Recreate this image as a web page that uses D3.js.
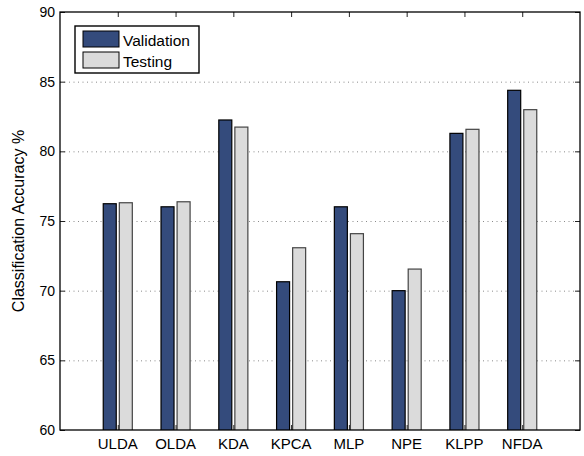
<!DOCTYPE html>
<html>
<head>
<meta charset="utf-8">
<script src="https://cdn.jsdelivr.net/npm/d3@7"></script>
<style>
  html, body { margin: 0; padding: 0; background: #fff; }
  svg { display: block; font-family: "Liberation Sans", Arial, Helvetica, sans-serif; }
</style>
</head>
<body>
<svg id="chart" width="584" height="456"></svg>
<script>
// Classification accuracy per method, validation vs testing
const categories = ["ULDA", "OLDA", "KDA", "KPCA", "MLP", "NPE", "KLPP", "NFDA"];
const validation = [76.24, 76.02, 82.25, 70.64, 76.02, 70.0, 81.29, 84.38];
const testing = [76.31, 76.38, 81.74, 73.08, 74.09, 71.55, 81.58, 82.99];
const seriesNames = ["Validation", "Testing"];
const yTicks = [60, 65, 70, 75, 80, 85, 90];
const gridTicks = [65, 70, 75, 80, 85];

const colors = { Validation: "#344b7c", Testing: "#dbdbdb" };
const strokes = { Validation: "#000", Testing: "#444" };

const W = 584, H = 456;
const m = { left: 60, right: 4, top: 12, bottom: 26 };
const svg = d3.select("#chart");

const x = d3.scaleLinear().domain([0, categories.length + 1]).range([m.left, W - m.right]);
const y = d3.scaleLinear().domain([60, 90]).range([H - m.bottom, m.top]);

const barW = x(0.225) - x(0);
const offsets = { Validation: -0.139, Testing: 0.139 };

// clip bars to the axes box
svg.append("clipPath").attr("id", "plotclip")
  .append("rect")
  .attr("x", x(0)).attr("y", y(90))
  .attr("width", x(categories.length + 1) - x(0))
  .attr("height", y(60) - y(90));

// dotted horizontal grid
svg.append("g").selectAll("line").data(gridTicks).join("line")
  .attr("x1", x(0)).attr("x2", x(categories.length + 1))
  .attr("y1", d => y(d) + 0.5).attr("y2", d => y(d) + 0.5)
  .attr("stroke", "#8a8a8a").attr("stroke-width", 1)
  .attr("stroke-dasharray", "1,3.5");

// bars
const bars = svg.append("g").attr("clip-path", "url(#plotclip)");
const seriesData = { Validation: validation, Testing: testing };
seriesNames.forEach(name => {
  bars.append("g").selectAll("rect").data(seriesData[name]).join("rect")
    .attr("x", (d, i) => x(i + 1 + offsets[name]) - barW / 2)
    .attr("y", d => y(d))
    .attr("width", barW)
    .attr("height", d => y(60) + 2 - y(d))
    .attr("fill", colors[name])
    .attr("stroke", strokes[name])
    .attr("stroke-width", 1.2);
});

// axes box with inward ticks
const yAxisL = d3.axisLeft(y).tickValues(yTicks).tickSize(-5).tickFormat("");
const yAxisR = d3.axisRight(y).tickValues(yTicks).tickSize(-5).tickFormat("");
const xTicks = d3.range(1, categories.length + 1);
const xAxisT = d3.axisTop(x).tickValues(xTicks).tickSize(-5).tickFormat("");
const xAxisB = d3.axisBottom(x).tickValues(xTicks).tickSize(-5).tickFormat("");

function styleAxis(g) {
  g.select(".domain").remove();
  g.selectAll(".tick line").attr("stroke", "#222").attr("stroke-width", 1);
}
svg.append("g").attr("transform", `translate(${x(0)},0)`).call(yAxisL).call(styleAxis);
svg.append("g").attr("transform", `translate(${x(categories.length + 1)},0)`).call(yAxisR).call(styleAxis);
svg.append("g").attr("transform", `translate(0,${y(90)})`).call(xAxisT).call(styleAxis);
svg.append("g").attr("transform", `translate(0,${y(60)})`).call(xAxisB).call(styleAxis);

svg.append("rect")
  .attr("x", x(0)).attr("y", y(90))
  .attr("width", x(categories.length + 1) - x(0))
  .attr("height", y(60) - y(90))
  .attr("fill", "none").attr("stroke", "#000").attr("stroke-width", 1.3);

// y tick labels
svg.append("g").selectAll("text").data(yTicks).join("text")
  .attr("x", x(0) - 5).attr("y", d => y(d) + 5)
  .attr("text-anchor", "end")
  .attr("font-size", 14)
  .text(d => d);

// category labels
svg.append("g").selectAll("text").data(categories).join("text")
  .attr("x", (d, i) => x(i + 1)).attr("y", y(60) + 19)
  .attr("text-anchor", "middle")
  .attr("font-size", 15)
  .text(d => d);

// y axis title
svg.append("text")
  .attr("transform", `translate(24,${(y(60) + y(90)) / 2}) rotate(-90)`)
  .attr("text-anchor", "middle")
  .attr("font-size", 16)
  .text("Classification Accuracy %");

// legend
const lg = svg.append("g");
lg.append("rect").attr("x", 75).attr("y", 26).attr("width", 124).attr("height", 47)
  .attr("fill", "#fff").attr("stroke", "#000").attr("stroke-width", 1.4);
seriesNames.forEach((name, i) => {
  const yy = 31 + i * 21;
  lg.append("rect").attr("x", 83).attr("y", yy).attr("width", 36).attr("height", 16)
    .attr("fill", colors[name]).attr("stroke", "#000").attr("stroke-width", 1);
  lg.append("text").attr("x", 123).attr("y", yy + 15)
    .attr("font-size", 15.5).text(name);
});
</script>
</body>
</html>
